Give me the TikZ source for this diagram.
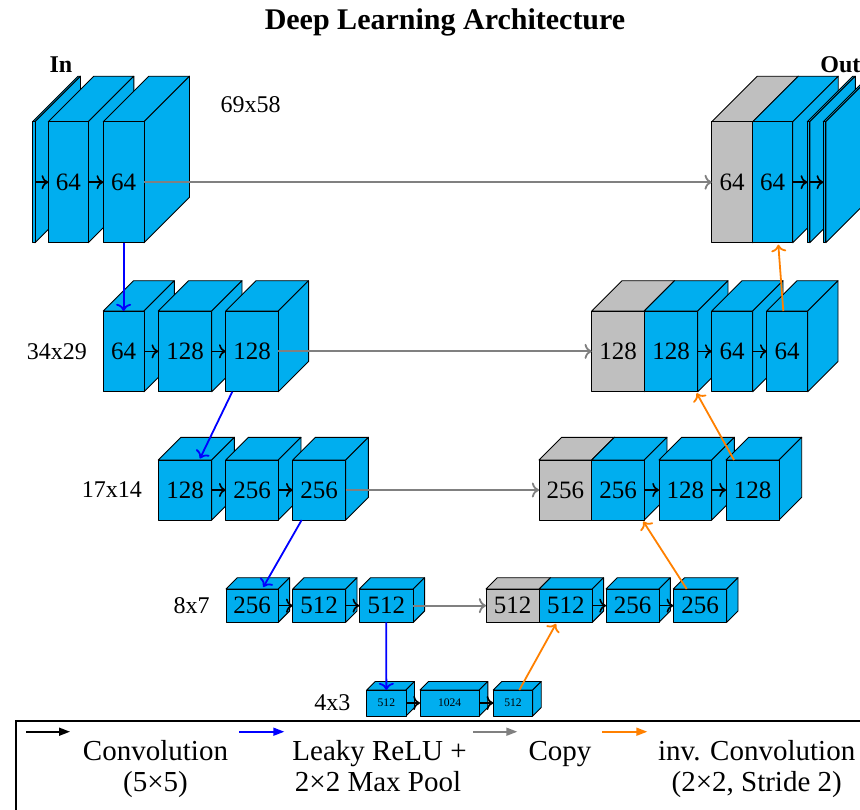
\documentclass[tikz,border=0pt]{standalone}
\usepackage{fontspec}
\setmainfont{Liberation Serif}
\usetikzlibrary{arrows.meta,calc}
\definecolor{cubeblue}{RGB}{0,174,239}
\definecolor{cubegray}{RGB}{191,191,191}
\definecolor{copygray}{RGB}{128,128,128}
\definecolor{invorange}{RGB}{255,128,0}
\tikzset{
  cubeline/.style={draw=black,line width=0.45pt,line join=round},
  cubeface/.style={cubeline,inner sep=0pt,outer sep=0pt,font=\fontsize{12.5}{14}\selectfont},
  smalltext/.style={font=\fontsize{5.8}{7}\selectfont},
  conv/.style={->,black,line width=0.8pt},
  pool/.style={->,blue,line width=0.9pt},
  copyarr/.style={->,copygray,line width=0.9pt},
  invconv/.style={->,invorange,line width=0.9pt},
  legarr/.style={-{Triangle[length=5.5pt,width=4pt]},line width=0.8pt},
  rowlabel/.style={inner sep=0pt,font=\fontsize{12}{14}\selectfont},
  legtext/.style={font=\fontsize{14.5}{17}\selectfont,anchor=base},
  io/.style={inner sep=0pt,font=\bfseries\fontsize{12}{14}\selectfont}
}
% #1 name, #2 x1, #3 x2, #4 ytop, #5 ybot, #6 depth, #7 colour, #8 label, #9 extra node options
\newcommand\drawcube[9]{%
  \filldraw[fill=#7,cubeline] (#2,#4) -- (#2+#6,#4-#6) -- (#3+#6,#4-#6) -- (#3,#4) -- cycle;
  \filldraw[fill=#7,cubeline] (#3,#4) -- (#3+#6,#4-#6) -- (#3+#6,#5-#6) -- (#3,#5) -- cycle;
  \pgfmathsetmacro\cubew{(#3-#2)*0.5}%
  \pgfmathsetmacro\cubeh{(#5-#4)*0.5}%
  \node[cubeface,fill=#7,minimum width=\cubew pt,minimum height=\cubeh pt,#9] (#1) at ({(#2+#3)/2},{(#4+#5)/2}) {#8};
}
\begin{document}
\begin{tikzpicture}[x=0.5pt,y=-0.5pt]
\useasboundingbox (0,0) rectangle (860,809);
\clip (0,0) rectangle (860,809);

\node[font=\bfseries\fontsize{15}{17}\selectfont] (title) at (445,22) {Deep Learning Architecture};

% Row 1
\drawcube{L1s}{32.5}{35}{121.7}{242.7}{45.5}{cubeblue}{}{}
\drawcube{L1a}{48.3}{88.3}{121.7}{242.7}{45.5}{cubeblue}{64}{}
\drawcube{L1b}{103.3}{144}{121.7}{242.7}{45.5}{cubeblue}{64}{}
\drawcube{R1g}{711.7}{752.7}{121.7}{242.7}{45.5}{cubegray}{64}{}
\drawcube{R1b}{752.7}{792.7}{121.7}{242.7}{45.5}{cubeblue}{64}{}
\drawcube{R1s1}{807.3}{809.8}{121.7}{242.7}{45.5}{cubeblue}{}{}
\drawcube{R1s2}{823.3}{825.8}{121.7}{242.7}{45.5}{cubeblue}{}{}
\node[io] (in) at (61,65) {In};
\node[io,anchor=west] (out) at (820,65) {Out};
\node[rowlabel] (s1) at (250.5,105) {69x58};

% Row 2
\drawcube{L2a}{103.3}{144}{311}{391.7}{30.3}{cubeblue}{64}{}
\drawcube{L2b}{158.3}{211.7}{311}{391.7}{30.3}{cubeblue}{128}{}
\drawcube{L2c}{225.7}{278.3}{311}{391.7}{30.3}{cubeblue}{128}{}
\drawcube{R2g}{591.7}{644.3}{311}{391.7}{30.3}{cubegray}{128}{}
\drawcube{R2b}{644.3}{697.7}{311}{391.7}{30.3}{cubeblue}{128}{}
\drawcube{R2c}{711.7}{752.7}{311}{391.7}{30.3}{cubeblue}{64}{}
\drawcube{R2d}{766.7}{807.7}{311}{391.7}{30.3}{cubeblue}{64}{}
\node[rowlabel,anchor=east] (s2) at ($(L2a.west)+(-16,0)$) {34x29};

% Row 3
\drawcube{L3a}{158.3}{211.7}{460}{520}{22.7}{cubeblue}{128}{}
\drawcube{L3b}{225.7}{278.3}{460}{520}{22.7}{cubeblue}{256}{}
\drawcube{L3c}{292.7}{345.7}{460}{520}{22.7}{cubeblue}{256}{}
\drawcube{R3g}{539}{591.7}{460}{520}{22.7}{cubegray}{256}{}
\drawcube{R3b}{591.7}{644.3}{460}{520}{22.7}{cubeblue}{256}{}
\drawcube{R3c}{659}{711.7}{460}{520}{22.7}{cubeblue}{128}{}
\drawcube{R3d}{726}{779}{460}{520}{22.7}{cubeblue}{128}{}
\node[rowlabel,anchor=east] (s3) at ($(L3a.west)+(-16,0)$) {17x14};

% Row 4
\drawcube{L4a}{226}{278.3}{589}{622.3}{11.3}{cubeblue}{256}{}
\drawcube{L4b}{292.7}{345.7}{589}{622.3}{11.3}{cubeblue}{512}{}
\drawcube{L4c}{359.3}{413.3}{589}{622.3}{11.3}{cubeblue}{512}{}
\drawcube{R4g}{486}{539.3}{589}{622.3}{11.3}{cubegray}{512}{}
\drawcube{R4b}{539.3}{592.3}{589}{622.3}{11.3}{cubeblue}{512}{}
\drawcube{R4c}{606}{659}{589}{622.3}{11.3}{cubeblue}{256}{}
\drawcube{R4d}{673.3}{726.7}{589}{622.3}{11.3}{cubeblue}{256}{}
\node[rowlabel,anchor=east] (s4) at ($(L4a.west)+(-16,0)$) {8x7};

% Row 5
\drawcube{M5a}{366.7}{406}{690}{716}{8.5}{cubeblue}{512}{smalltext}
\drawcube{M5b}{420}{479.3}{690}{716}{8.5}{cubeblue}{1024}{smalltext}
\drawcube{M5c}{493.3}{532.7}{690}{716}{8.5}{cubeblue}{512}{smalltext}
\node[rowlabel,anchor=east] (s5) at ($(M5a.west)+(-16,0)$) {4x3};

% Convolutions
\draw[conv] (L1s.east) -- (L1a.west);
\draw[conv] (L1a.east) -- (L1b.west);
\draw[conv] (L2a.east) -- (L2b.west);
\draw[conv] (L2b.east) -- (L2c.west);
\draw[conv] (L3a.east) -- (L3b.west);
\draw[conv] (L3b.east) -- (L3c.west);
\draw[conv] (L4a.east) -- (L4b.west);
\draw[conv] (L4b.east) -- (L4c.west);
\draw[conv] (M5a.east) -- (M5b.west);
\draw[conv] (M5b.east) -- (M5c.west);
\draw[conv] (R4b.east) -- (R4c.west);
\draw[conv] (R4c.east) -- (R4d.west);
\draw[conv] (R3b.east) -- (R3c.west);
\draw[conv] (R3c.east) -- (R3d.west);
\draw[conv] (R2b.east) -- (R2c.west);
\draw[conv] (R2c.east) -- (R2d.west);
\draw[conv] (R1b.east) -- (R1s1.west);
\draw[conv] (R1s1.east) -- (R1s2.west);

% Copies
\draw[copyarr] (L1b.east) -- (R1g.west);
\draw[copyarr] (L2c.east) -- (R2g.west);
\draw[copyarr] (L3c.east) -- (R3g.west);
\draw[copyarr] (L4c.east) -- (R4g.west);

% Pooling
\draw[pool] (L1b.south) -- (L2a.north);
\draw[pool] ($(L2c.south west)+(6.6,0)$) -- ($(L3a.north west)+(41.7,-1.5)$);
\draw[pool] ($(L3c.south west)+(9,0)$) -- ($(L4a.north west)+(37.3,-2)$);
\draw[pool] (L4c.south) -- (M5a.north);

% Inverse convolutions
\draw[invconv] ($(M5c.north west)+(26,0)$) -- ($(R4b.south west)+(16.7,1.5)$);
\draw[invconv] ($(R4d.north west)+(13.4,0)$) -- ($(R3b.south east)+(-1,1.5)$);
\draw[invconv] ($(R3d.north west)+(8,0)$) -- ($(R2b.south east)+(-1,1.5)$);
\draw[invconv] ($(R2d.north west)+(16.6,0)$) -- ($(R1b.south west)+(25.6,2)$);

% Legend
\draw[line width=0.8pt] (15.7,721) rectangle (900,850);
\coordinate (k1a) at (26,731.7); \coordinate (k1b) at (70,731.7);
\coordinate (k2a) at (239.3,731.7); \coordinate (k2b) at (284.3,731.7);
\coordinate (k3a) at (473.3,731.7); \coordinate (k3b) at (517.3,731.7);
\coordinate (k4a) at (602.3,731.7); \coordinate (k4b) at (647.3,731.7);
\draw[legarr,black] (k1a) -- (k1b);
\draw[legarr,blue] (k2a) -- (k2b);
\draw[legarr,copygray] (k3a) -- (k3b);
\draw[legarr,invorange] (k4a) -- (k4b);
\node[legtext] (t1a) at (155.5,760) {Convolution};
\node[legtext] (t1b) at (155.5,791.5) {(5×5)};
\node[legtext] (t2a) at (379.5,760) {Leaky ReLU +};
\node[legtext] (t2b) at (378,791.5) {2×2 Max Pool};
\node[legtext] (t3a) at (560,760) {Copy};
\node[legtext] (t4a) at (756.7,760) {inv. Convolution};
\node[legtext] (t4b) at (756.7,791.5) {(2×2, Stride 2)};
\end{tikzpicture}
\end{document}
